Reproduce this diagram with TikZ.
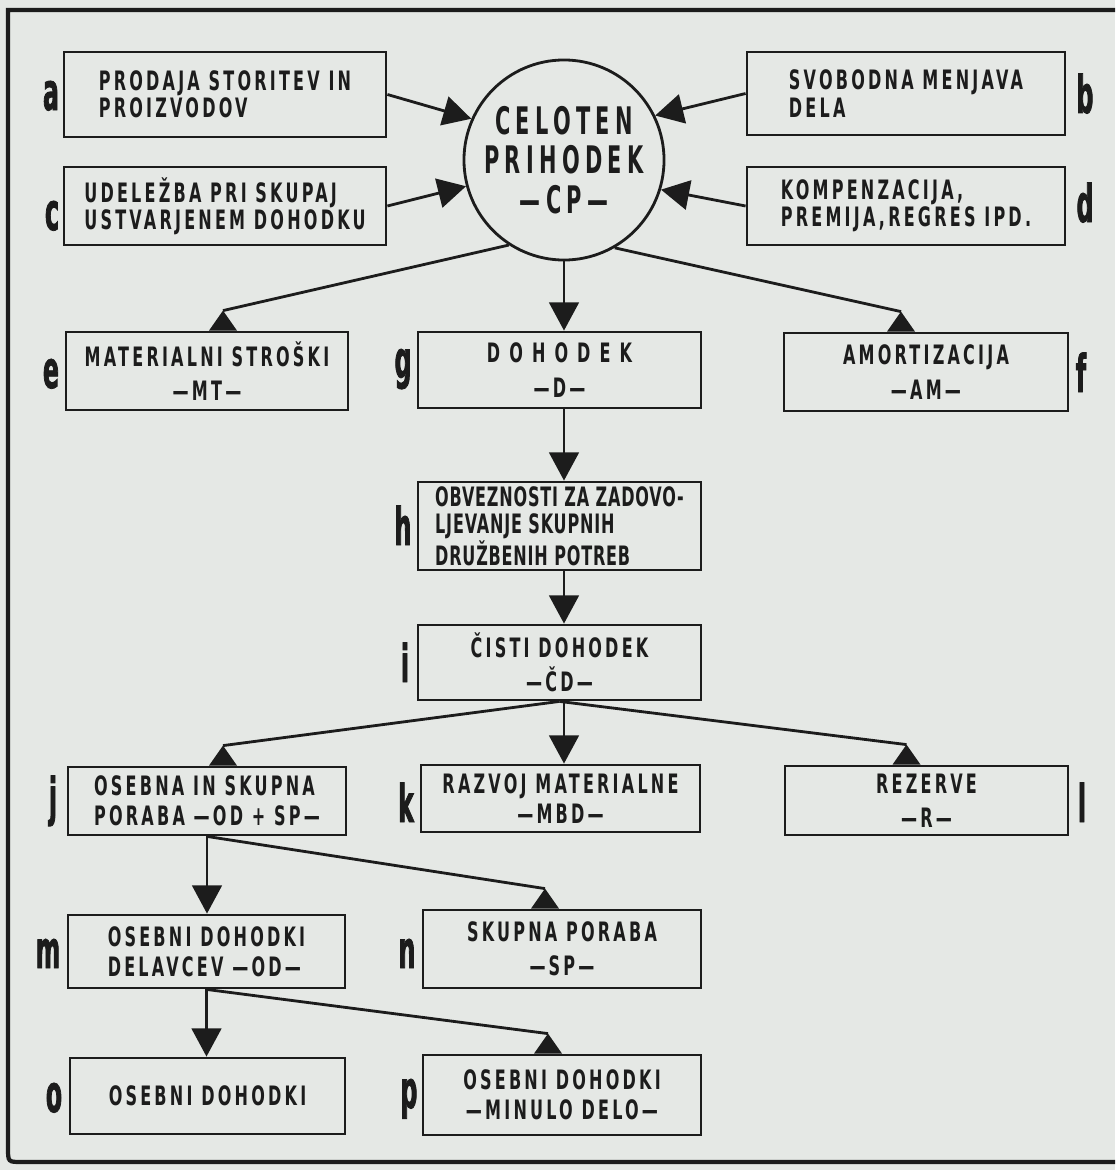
\documentclass[tikz,border=0pt]{standalone}
\usepackage{fontspec}
\usetikzlibrary{arrows.meta,calc}
\newfontfamily\blokfont{DejaVu Sans}[FakeStretch=0.6,LetterSpace=12]
\newfontfamily\krogfont{DejaVu Sans}[FakeStretch=0.55,LetterSpace=14]
\newfontfamily\oznakafont{DejaVu Sans}[FakeStretch=0.45,FakeBold=1.5]
\definecolor{papir}{RGB}{229,232,229}
\definecolor{crnilo}{RGB}{28,28,28}
% trikotnik, ki sede na zgornjem robu okvirja
\newcommand\klobuk[1]{\fill (#1) -- ++(-14,20) -- ++(28,0) -- cycle;}
\begin{document}
\begin{tikzpicture}[x=0.025cm,y=-0.025cm,line width=2pt,color=crnilo,
    blok/.style 2 args={draw,line width=2pt,minimum width=#1*0.025cm,minimum height=#2*0.025cm,
        inner sep=0pt,align=center,font=\blokfont\bfseries\fontsize{19}{19.5}\selectfont},
    levo/.style={align=left},
    gosto/.style={font=\blokfont\bfseries\fontsize{19}{19.5}\selectfont\addfontfeature{LetterSpace=3}},
    krog/.style={draw,circle,line width=2pt,minimum size=5cm,inner sep=0pt,align=center,
        font=\krogfont\bfseries\fontsize{27}{28}\selectfont},
    oznaka/.style={anchor=base,inner sep=0pt,font=\oznakafont\bfseries\fontsize{37}{37}\selectfont},
    puscica/.style={-{Triangle[length=20pt,width=21pt]}}]
\fill[papir] (0,0) rectangle (1115,1170);
\draw[line width=3pt] (1115,10) -- (8,10) -- (8,1148) .. controls (8,1162) .. (22,1162) -- (1115,1162);

% vir prihodka
\node[krog] (cp) at (564,160) {CELOTEN\\PRIHODEK\\—CP—};
\node[blok={322}{85},levo] (prodaja) at (225,94.5) {PRODAJA STORITEV IN\\PROIZVODOV};
\node[blok={322}{78},levo] (udelezba) at (225,206) {UDELEŽBA PRI SKUPAJ\\USTVARJENEM DOHODKU};
\node[blok={318}{83},levo] (menjava) at (906,93.5) {SVOBODNA MENJAVA\\DELA};
\node[blok={318}{78},levo] (kompenzacija) at (906,206) {KOMPENZACIJA,\\PREMIJA,REGRES IPD.};

% delitev
\node[blok={282}{78}] (mt) at (207,371) {MATERIALNI STROŠKI\\[5pt]—MT—};
\node[blok={283}{76}] (dohodek) at (559.5,370) {{\addfontfeature{LetterSpace=34}DOHODEK}\\[5pt]—D—};
\node[blok={284}{78}] (am) at (926,372) {AMORTIZACIJA\\[5pt]—AM—};
\node[blok={283}{88},levo,gosto] (obveznosti) at (559.5,526) {OBVEZNOSTI ZA ZADOVO-\\LJEVANJE SKUPNIH\\DRUŽBENIH POTREB};
\node[blok={283}{75}] (cd) at (559.5,662.5) {ČISTI DOHODEK\\[5pt]—ČD—};
\node[blok={278}{68},levo] (odsp) at (207,801) {OSEBNA IN SKUPNA\\[2pt]PORABA —OD + SP—};
\node[blok={279}{67}] (mbd) at (560.5,798.5) {RAZVOJ MATERIALNE\\[2pt]—MBD—};
\node[blok={283}{69}] (r) at (926.5,800.5) {REZERVE\\[5pt]—R—};
\node[blok={277}{73},levo] (odd) at (206.5,951.5) {OSEBNI DOHODKI\\[2pt]DELAVCEV —OD—};
\node[blok={278}{78}] (sp) at (562,949) {SKUPNA PORABA\\[5pt]—SP—};
\node[blok={275}{76},levo] (osebni) at (207.5,1096) {OSEBNI DOHODKI};
\node[blok={278}{80}] (minulo) at (562,1095) {OSEBNI DOHODKI\\[2pt]—MINULO DELO—};

% oznake
\foreach \crka/\x/\y in {a/51/110,c/52/230,b/1085/113,d/1085/222,e/51/388,g/403/378,f/1081/392,
    h/403/545,i/405/682,j/53/815,k/406/822,l/1082/822,m/48/968,n/407/968,o/54/1112,p/409/1108}
    \node[oznaka] (lbl\crka) at (\x,\y) {\crka};

% povezave
\draw[puscica] (prodaja.east) -- (cp.156);
\draw[puscica] (udelezba.east) -- (cp.195);
\draw[puscica] (menjava.west) -- (cp.26);
\draw[puscica] (kompenzacija.west) -- (cp.343);
\foreach \zac/\kon in {cp/dohodek,dohodek/obveznosti,obveznosti/cd,cd/mbd}
    \draw[puscica] (\zac.south -| cp) -- (\kon.north -| cp);
\foreach \zac/\kon in {odsp/odd,odd/osebni}
    \draw[puscica] (\zac.south) -- (\zac.south |- \kon.north);
\foreach \zac/\kon/\dx in {cp.237/mt/16,cp.300/am/-25,cd.south/odsp/16,cd.south/r/-20,
    odsp.south/sp/-17,odd.south/minulo/-14}{
    \coordinate (v\kon) at ($(\kon.north)+(\dx,-20)$);
    \draw (\zac) -- (v\kon);
    \klobuk{v\kon}
}
\end{tikzpicture}
\end{document}
